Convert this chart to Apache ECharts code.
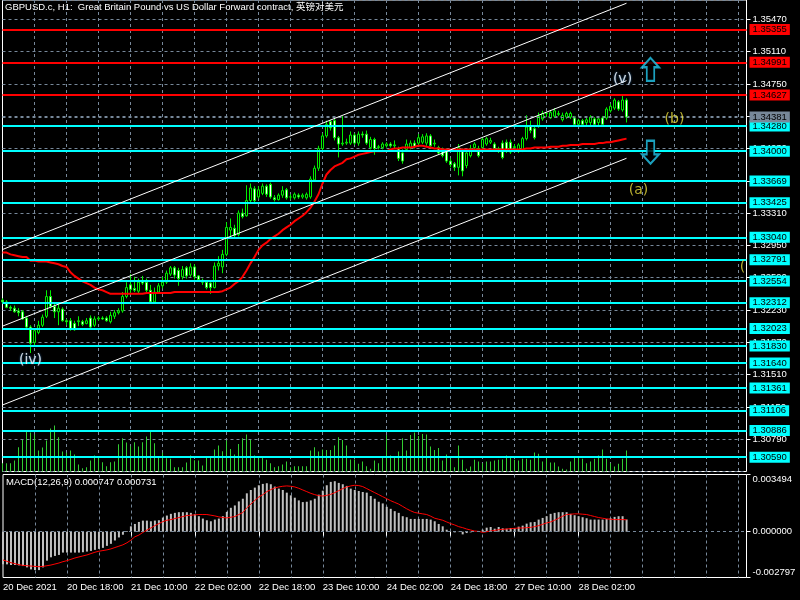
<!DOCTYPE html>
<html><head><meta charset="utf-8">
<script src="https://cdn.jsdelivr.net/npm/echarts@6/dist/echarts.min.js"></script>
<style>html,body{margin:0;padding:0;background:#000;}#c{width:800px;height:600px;}</style>
</head><body><div id="c"></div>
<script>
const FONT = "'Liberation Sans', Arial, 'Noto Sans CJK SC', sans-serif";
const GRID_COLOR = '#77889a';

// ---------- time axis ----------
const startTimeUTC = Date.UTC(2021, 11, 20, 2);
const slotCount = 187;
const monthNames = ['Jan','Feb','Mar','Apr','May','Jun','Jul','Aug','Sep','Oct','Nov','Dec'];
const categories = [];
(function () {
  let t = startTimeUTC;
  while (categories.length < slotCount) {
    const d = new Date(t);
    const wd = d.getUTCDay();
    if (wd !== 0 && wd !== 6) {
      categories.push(d.getUTCDate() + ' ' + monthNames[d.getUTCMonth()] + ' ' + String(d.getUTCHours()).padStart(2, '0') + ':00');
    }
    t += 3600000;
  }
})();
const xTickLabels = ['20 Dec 2021','20 Dec 18:00','21 Dec 10:00','22 Dec 02:00','22 Dec 18:00','23 Dec 10:00','24 Dec 02:00','24 Dec 18:00','27 Dec 10:00','28 Dec 02:00'];
const xLabelStep = 16;
const xGridStep = 8;

// ---------- price data: [open, close, low, high] ----------
const candles = [
[1.3234,1.3232,1.3230,1.3236],[1.3232,1.3226,1.3225,1.3234],[1.3226,1.3225,1.3222,1.3228],[1.3225,1.3221,1.3220,1.3228],[1.3222,1.3220,1.3216,1.3225],
[1.3221,1.3213,1.3212,1.3223],[1.3214,1.3204,1.3201,1.3216],[1.3204,1.3186,1.3175,1.3206],[1.3187,1.3200,1.3184,1.3202],[1.3198,1.3206,1.3196,1.3211],
[1.3206,1.3215,1.3204,1.3218],[1.3216,1.3238,1.3214,1.3245],[1.3238,1.3227,1.3225,1.3245],[1.3227,1.3221,1.3214,1.3231],[1.3221,1.3225,1.3206,1.3230],
[1.3224,1.3211,1.3210,1.3226],[1.3211,1.3210,1.3206,1.3213],[1.3211,1.3202,1.3200,1.3214],[1.3208,1.3201,1.3200,1.3211],[1.3210,1.3211,1.3205,1.3216],
[1.3210,1.3207,1.3205,1.3212],[1.3208,1.3211,1.3207,1.3214],[1.3214,1.3204,1.3201,1.3217],[1.3206,1.3213,1.3204,1.3216],[1.3213,1.3214,1.3211,1.3216],
[1.3214,1.3213,1.3212,1.3216],[1.3214,1.3211,1.3210,1.3216],[1.3210,1.3217,1.3208,1.3221],[1.3216,1.3220,1.3213,1.3223],[1.3220,1.3222,1.3218,1.3225],
[1.3222,1.3238,1.3220,1.3243],[1.3238,1.3248,1.3236,1.3254],[1.3251,1.3246,1.3241,1.3263],[1.3247,1.3245,1.3243,1.3260],[1.3244,1.3254,1.3242,1.3258],
[1.3256,1.3253,1.3251,1.3261],[1.3254,1.3245,1.3243,1.3258],[1.3245,1.3232,1.3231,1.3251],[1.3232,1.3243,1.3231,1.3248],[1.3243,1.3250,1.3241,1.3253],
[1.3250,1.3254,1.3247,1.3260],[1.3254,1.3264,1.3252,1.3267],[1.3263,1.3270,1.3261,1.3272],[1.3270,1.3262,1.3258,1.3272],[1.3267,1.3258,1.3250,1.3270],
[1.3260,1.3268,1.3257,1.3272],[1.3270,1.3261,1.3258,1.3272],[1.3262,1.3271,1.3260,1.3275],[1.3271,1.3260,1.3257,1.3274],[1.3261,1.3257,1.3255,1.3262],
[1.3256,1.3254,1.3251,1.3258],[1.3254,1.3248,1.3246,1.3255],[1.3253,1.3248,1.3241,1.3254],[1.3248,1.3272,1.3247,1.3276],[1.3272,1.3275,1.3267,1.3283],
[1.3271,1.3285,1.3264,1.3290],[1.3285,1.3315,1.3283,1.3321],[1.3312,1.3315,1.3304,1.3325],[1.3314,1.3306,1.3304,1.3318],[1.3307,1.3331,1.3305,1.3334],
[1.3331,1.3327,1.3325,1.3336],[1.3328,1.3345,1.3327,1.3362],[1.3345,1.3359,1.3343,1.3364],[1.3358,1.3345,1.3343,1.3361],[1.3349,1.3357,1.3347,1.3361],
[1.3353,1.3361,1.3351,1.3364],[1.3361,1.3352,1.3349,1.3363],[1.3363,1.3349,1.3347,1.3365],[1.3348,1.3346,1.3344,1.3351],[1.3346,1.3351,1.3345,1.3353],
[1.3351,1.3356,1.3348,1.3361],[1.3357,1.3348,1.3346,1.3359],[1.3349,1.3349,1.3346,1.3352],[1.3348,1.3352,1.3346,1.3354],[1.3351,1.3349,1.3347,1.3353],
[1.3349,1.3351,1.3347,1.3353],[1.3348,1.3352,1.3346,1.3354],[1.3349,1.3369,1.3347,1.3372],[1.3368,1.3381,1.3366,1.3384],[1.3381,1.3403,1.3378,1.3406],
[1.3403,1.3417,1.3401,1.3420],[1.3417,1.3430,1.3415,1.3434],[1.3433,1.3426,1.3423,1.3435],[1.3434,1.3415,1.3412,1.3436],[1.3415,1.3408,1.3393,1.3417],
[1.3408,1.3409,1.3406,1.3439],[1.3409,1.3410,1.3407,1.3414],[1.3409,1.3418,1.3407,1.3422],[1.3418,1.3409,1.3407,1.3420],[1.3409,1.3419,1.3406,1.3422],
[1.3419,1.3418,1.3415,1.3422],[1.3419,1.3409,1.3407,1.3423],[1.3404,1.3413,1.3402,1.3416],[1.3413,1.3403,1.3396,1.3415],[1.3404,1.3405,1.3402,1.3407],
[1.3404,1.3408,1.3402,1.3410],[1.3406,1.3408,1.3404,1.3410],[1.3408,1.3406,1.3404,1.3410],[1.3406,1.3407,1.3403,1.3412],[1.3403,1.3392,1.3389,1.3405],
[1.3398,1.3389,1.3386,1.3402],[1.3402,1.3408,1.3399,1.3413],[1.3404,1.3409,1.3402,1.3412],[1.3409,1.3405,1.3403,1.3412],[1.3409,1.3415,1.3407,1.3419],
[1.3410,1.3416,1.3408,1.3419],[1.3409,1.3417,1.3406,1.3420],[1.3417,1.3406,1.3404,1.3419],[1.3408,1.3409,1.3405,1.3413],[1.3404,1.3398,1.3396,1.3406],
[1.3402,1.3395,1.3393,1.3404],[1.3401,1.3389,1.3387,1.3403],[1.3389,1.3385,1.3382,1.3392],[1.3386,1.3382,1.3378,1.3388],[1.3382,1.3404,1.3373,1.3408],
[1.3401,1.3378,1.3372,1.3403],[1.3384,1.3398,1.3381,1.3402],[1.3395,1.3403,1.3393,1.3407],[1.3404,1.3408,1.3402,1.3410],[1.3403,1.3395,1.3393,1.3406],
[1.3404,1.3413,1.3402,1.3415],[1.3408,1.3414,1.3406,1.3416],[1.3410,1.3412,1.3408,1.3415],[1.3408,1.3403,1.3401,1.3410],[1.3403,1.3402,1.3398,1.3405],
[1.3409,1.3393,1.3391,1.3412],[1.3410,1.3401,1.3398,1.3413],[1.3410,1.3399,1.3397,1.3413],[1.3404,1.3405,1.3403,1.3408],[1.3401,1.3407,1.3398,1.3409],
[1.3401,1.3414,1.3399,1.3416],[1.3414,1.3427,1.3412,1.3440],[1.3428,1.3423,1.3420,1.3434],[1.3425,1.3415,1.3413,1.3427],[1.3428,1.3439,1.3426,1.3443],
[1.3436,1.3442,1.3434,1.3445],[1.3442,1.3442,1.3438,1.3444],[1.3437,1.3443,1.3436,1.3446],[1.3439,1.3445,1.3437,1.3448],[1.3441,1.3442,1.3439,1.3445],
[1.3435,1.3440,1.3433,1.3443],[1.3438,1.3442,1.3436,1.3444],[1.3438,1.3442,1.3436,1.3444],[1.3437,1.3430,1.3428,1.3439],[1.3430,1.3434,1.3428,1.3436],
[1.3434,1.3430,1.3428,1.3436],[1.3432,1.3435,1.3429,1.3437],[1.3432,1.3438,1.3429,1.3440],[1.3436,1.3430,1.3428,1.3438],[1.3432,1.3436,1.3429,1.3438],
[1.3437,1.3430,1.3428,1.3439],[1.3437,1.3447,1.3435,1.3449],[1.3445,1.3450,1.3443,1.3453],[1.3448,1.3457,1.3446,1.3459],[1.3455,1.3447,1.3445,1.3457],
[1.3446,1.3457,1.3444,1.3462],[1.3457,1.3438,1.3432,1.3459]
];

const maValues = [
1.3287,1.3287,1.3285,1.3284,1.3283,1.3282,1.3282,
1.3278,1.3278,1.3277,1.3277,1.3277,1.3276,1.3275,1.3274,1.3272,1.3271,
1.3265,1.3261,1.3258,1.3255,1.3253,1.3251,1.3248,1.3246,1.3245,1.3243,1.3241,
1.3241,1.3241,1.3241,1.3241,1.3241,1.3241,1.3241,
1.3241,
1.3242,1.3242,1.3242,1.3242,1.3242,1.3242,
1.3242,
1.3243,1.3243,1.3243,1.3243,1.3243,1.3243,1.3243,1.3243,1.3243,1.3243,1.3243,1.3243,
1.3244,1.3246,1.3248,1.3252,1.3255,1.3260,1.3267,1.3275,1.3282,1.3290,
1.3295,1.3298,1.3302,1.3305,1.3308,1.3312,1.3315,1.3318,1.3322,1.3325,
1.3328,1.3332,1.3337,1.3344,1.3352,1.3364,1.3374,1.3379,1.3383,1.3385,
1.3387,1.3391,1.3392,1.3394,1.3396,1.3397,1.3398,1.3399,
1.3400,1.3400,1.3400,1.3400,
1.3402,1.3403,1.3403,1.3404,1.3404,1.3404,1.3405,1.3406,1.3406,1.3405,1.3404,1.3403,1.3403,
1.3402,1.3402,1.3402,1.3402,1.3402,1.3402,1.3402,1.3402,1.3402,1.3402,1.3402,1.3402,1.3402,1.3402,1.3402,1.3402,1.3402,1.3402,1.3402,1.3402,1.3402,
1.3403,1.3403,1.3404,1.3404,1.3404,1.3404,1.3405,1.3405,1.3405,1.3406,1.3406,1.3407,1.3407,1.3407,1.3408,1.3408,1.3408,1.3408,1.3409,1.3409,
1.3410,1.3410,1.3411,1.3412,1.3413,1.3414
];

const volumes = [
750,
750,750,990,2190,2850,3630,3510,3330,1890,2160,
2790,3870,4140,3090,1800,1680,1890,1530,630,300,
390,990,1440,1230,840,480,840,900,2460,3000,
2610,2280,2640,2250,2640,3150,3630,2550,1230,1680,
1200,1140,390,390,390,810,1440,1020,990,540,
1290,1290,1980,2340,1830,2790,2040,1530,2490,3000,
3330,2850,1440,1200,1230,1050,750,390,480,630,
900,390,480,480,480,480,1890,2190,1800,1980,
1950,1950,2340,3090,2850,2340,1080,1080,690,900,
480,240,990,750,1230,3300,1440,1290,1800,3000,
1890,3300,3510,3210,3390,3330,2250,1950,2130,990,
1530,1140,390,2340,1050,240,450,1050,900,750,
900,900,990,1050,1080,1440,1230,1050,990,1140,
1140,1050,1710,1590,900,1140,810,810,450,240,
180,900,1230,1230,1140,750,900,1140,1440,1980,
1140,750,450,690,1140,1890
];

// ---------- MACD(12,26,9) ----------
const macdHist = [
-0.001994,-0.001994,-0.002035,-0.002035,-0.002056,-0.002097,-0.002179,-0.002303,-0.002344,-0.002344,
-0.002179,-0.001768,-0.001563,-0.001480,-0.001419,-0.001275,-0.001275,-0.001275,-0.001275,-0.001275,
-0.001254,-0.001213,-0.001172,-0.001110,-0.001049,-0.000987,-0.000864,-0.000740,-0.000535,-0.000350,
-0.000185,0.000041,0.000329,0.000473,0.000596,0.000678,0.000678,0.000637,0.000678,0.000699,
0.000864,0.000987,0.001090,0.001151,0.001192,0.001192,0.001192,0.001151,0.001069,0.000946,
0.000802,0.000699,0.000637,0.000740,0.000802,0.000946,0.001213,0.001460,0.001604,0.001850,
0.002015,0.002344,0.002549,0.002693,0.002837,0.002920,0.002961,0.002899,0.002755,0.002632,
0.002549,0.002385,0.002220,0.002077,0.001912,0.001809,0.001830,0.001912,0.002015,0.002262,
0.002508,0.002837,0.003043,0.003084,0.002981,0.002899,0.002796,0.002632,0.002549,0.002488,
0.002426,0.002385,0.002179,0.002015,0.001830,0.001727,0.001521,0.001398,0.001254,0.001151,
0.000946,0.000884,0.000781,0.000781,0.000781,0.000781,0.000781,0.000740,0.000637,0.000473,
0.000329,0.000123,0.000010,-0.000041,-0.000021,-0.000164,-0.000082,-0.000041,0.000010,0.000021,
0.000123,0.000247,0.000288,0.000185,0.000288,0.000206,0.000185,0.000226,0.000206,0.000308,
0.000370,0.000493,0.000576,0.000596,0.000740,0.000843,0.000946,0.001090,0.001151,0.001192,
0.001192,0.001192,0.001090,0.001007,0.000946,0.000884,0.000822,0.000740,0.000740,0.000740,
0.000740,0.000781,0.000822,0.000905,0.000946,0.000946,0.000747
];
const macdSignal = [
-0.001727,-0.001809,-0.001892,-0.001953,-0.002015,-0.002056,-0.002077,-0.002097,-0.002118,-0.002138,
-0.002118,-0.002077,-0.002035,-0.001974,-0.001912,-0.001830,-0.001768,-0.001686,-0.001604,-0.001542,
-0.001480,-0.001419,-0.001336,-0.001254,-0.001192,-0.001151,-0.001110,-0.001049,-0.000966,-0.000884,
-0.000802,-0.000678,-0.000514,-0.000308,-0.000206,-0.000041,0.000103,0.000226,0.000370,0.000493,
0.000617,0.000699,0.000740,0.000802,0.000864,0.000925,0.000987,0.001007,0.001028,0.001049,
0.001049,0.001049,0.001007,0.000966,0.000905,0.000864,0.000843,0.000884,0.000925,0.001049,
0.001172,0.001460,0.001686,0.001912,0.002118,0.002262,0.002447,0.002570,0.002673,0.002734,
0.002776,0.002796,0.002776,0.002734,0.002652,0.002549,0.002447,0.002344,0.002262,0.002200,
0.002179,0.002220,0.002282,0.002385,0.002508,0.002632,0.002734,0.002796,0.002837,0.002817,
0.002755,0.002632,0.002508,0.002385,0.002262,0.002138,0.002015,0.001892,0.001789,0.001686,
0.001542,0.001398,0.001275,0.001172,0.001131,0.001090,0.001049,0.000946,0.000822,0.000761,
0.000699,0.000596,0.000493,0.000411,0.000308,0.000247,0.000164,0.000103,0.000041,0.000021,
-0.000041,0.000000,0.000041,0.000082,0.000123,0.000144,0.000164,0.000185,0.000206,0.000226,
0.000226,0.000247,0.000267,0.000308,0.000370,0.000452,0.000535,0.000596,0.000699,0.000822,
0.000946,0.001049,0.001069,0.001090,0.001090,0.001069,0.001049,0.000987,0.000925,0.000864,
0.000822,0.000781,0.000761,0.000740,0.000740,0.000740,0.000731
];
const macdAxisValues = [-0.002797, 0, 0.003494];

// ---------- chart objects ----------
const redLevels = [1.35355, 1.34991, 1.34627];
const cyanLevels = [1.34280,1.34000,1.33669,1.33425,1.33040,1.32791,1.32554,1.32312,1.32023,1.31830,1.31640,1.31361,1.31106,1.30886,1.30590];
const bidPrice = 1.34381;
const channelStartIdx = 0, channelEndIdx = 156;
const channelStartPrice = [1.32904, 1.32050, 1.31171];
const channelEndPrice = [1.35649, 1.34786, 1.33921];
const waveTexts = ['(iv)', '(v)', '(b)', '(a)', '('];
const waveIdx = [7, 155, 168, 159, 185];
const wavePrice = [1.31669, 1.34795, 1.34350, 1.33560, 1.32703];
const waveColors = ['#ffffff', '#ffffff', '#e8dc3c', '#e8dc3c', '#e8dc3c'];
const arrowIdx = [162, 162];
const arrowPrice = [1.34912, 1.33988];
const arrowDir = ['up', 'down'];

const titleText = 'GBPUSD.c, H1:  Great Britain Pound vs US Dollar Forward contract, 英镑对美元';
const macdTitle = 'MACD(12,26,9) 0.000747 0.000731';

// ---------- build ----------
const isLabelled = (i) => i % xLabelStep === 0 && (i / xLabelStep) < xTickLabels.length;
const isGridLine = (i) => i % xGridStep === 0 && i > 0;
const labelBase = { show: true, position: 'end', distance: 3, fontSize: 9.5, fontFamily: FONT, padding: [1, 3, 0, 3], lineHeight: 10,
  formatter: (p) => Number(p.value).toFixed(5) };
const levelData = [];
redLevels.forEach(v => levelData.push({ yAxis: v, lineStyle: { color: '#ff0000', width: 2, type: 'solid' },
  label: Object.assign({}, labelBase, { backgroundColor: '#ff0000', color: '#000' }) }));
cyanLevels.forEach(v => levelData.push({ yAxis: v, lineStyle: { color: '#00ffff', width: 2, type: 'solid' },
  label: Object.assign({}, labelBase, { backgroundColor: '#00ffff', color: '#000' }) }));
levelData.push({ yAxis: bidPrice, lineStyle: { color: GRID_COLOR, width: 1, type: [3, 3] },
  label: Object.assign({}, labelBase, { backgroundColor: '#778899', color: '#000' }) });
channelStartPrice.forEach((s, k) => levelData.push([
  { coord: [channelStartIdx, s], lineStyle: { color: '#ffffff', width: 1, type: 'solid' }, label: { show: false } },
  { coord: [channelEndIdx, channelEndPrice[k]] }
]));

const waveData = waveTexts.map((t, k) => ({ value: [waveIdx[k], wavePrice[k]],
  label: { show: true, position: 'inside', formatter: t, color: waveColors[k], fontSize: 14, fontFamily: "'DejaVu Sans', sans-serif",
    textShadowColor: waveColors[k] === '#ffffff' ? '#3b8fe0' : 'rgba(0,0,0,0)', textShadowBlur: 2 } }));

const upPath = 'path://M8,0 L16,9 L11.5,9 L11.5,22 L4.5,22 L4.5,9 L0,9 Z';
const downPath = 'path://M4.5,0 L11.5,0 L11.5,13 L16,13 L8,22 L0,13 L4.5,13 Z';
const arrowData = arrowIdx.map((x, k) => ({ value: [x, arrowPrice[k]], symbol: arrowDir[k] === 'up' ? upPath : downPath }));

const splitX = { show: true, interval: isGridLine, lineStyle: { color: GRID_COLOR, width: 1, type: [3, 3] } };

const chart = echarts.init(document.getElementById('c'), null, { renderer: 'canvas' });
chart.setOption({
  backgroundColor: '#000000',
  animation: false,
  textStyle: { fontFamily: FONT },
  grid: [
    { left: 2.5, width: 744, top: -1, height: 472.5, show: true, borderColor: '#ffffff', borderWidth: 1, backgroundColor: 'transparent' },
    { left: 2.5, width: 744, top: 474.5, height: 103, show: true, borderColor: '#ffffff', borderWidth: 1, backgroundColor: 'transparent' }
  ],
  xAxis: [
    { type: 'category', gridIndex: 0, data: categories, boundaryGap: false,
      axisLine: { show: false }, axisTick: { show: false }, axisLabel: { show: false }, splitLine: splitX },
    { type: 'category', gridIndex: 1, data: categories, boundaryGap: false,
      axisLine: { show: false },
      axisTick: { show: true, interval: isLabelled, length: 4, lineStyle: { color: '#ffffff' } },
      axisLabel: { show: true, interval: isLabelled, formatter: (v, i) => xTickLabels[i / xLabelStep], color: '#ffffff',
        fontSize: 9.5, fontFamily: FONT, align: 'left', margin: 5 },
      splitLine: splitX }
  ],
  yAxis: [
    { type: 'value', gridIndex: 0, position: 'right', min: 1.3043, max: 1.35685, interval: 0.0036,
      axisLine: { show: false },
      axisTick: { show: true, length: 4, lineStyle: { color: '#ffffff' } },
      axisLabel: { color: '#ffffff', fontSize: 9.5, fontFamily: FONT, margin: 6, formatter: (v) => v.toFixed(5), showMinLabel: false, showMaxLabel: false },
      splitLine: { show: true, lineStyle: { color: GRID_COLOR, width: 1, type: [3, 3] } } },
    { type: 'value', gridIndex: 0, min: 0, max: 42525, show: false },
    { type: 'value', gridIndex: 1, position: 'right', min: -0.002797, max: 0.003494,
      axisLine: { show: false },
      axisTick: { show: true, length: 4, customValues: macdAxisValues, lineStyle: { color: '#ffffff' } },
      axisLabel: { customValues: macdAxisValues, formatter: (v) => v.toFixed(6), color: '#ffffff', fontSize: 9.5, fontFamily: FONT, margin: 6,
        verticalAlignMinLabel: 'bottom', verticalAlignMaxLabel: 'top' },
      splitLine: { show: false } }
  ],
  graphic: [
    { type: 'text', left: 5, top: 3, z: 100, style: { text: titleText, fill: '#ffffff', font: '9.5px ' + FONT } },
    { type: 'text', left: 6, top: 478, z: 100, style: { text: macdTitle, fill: '#ffffff', font: '9.5px ' + FONT } }
  ],
  series: [
    { name: 'Volume', type: 'bar', xAxisIndex: 0, yAxisIndex: 1, data: volumes, barWidth: 1, z: 1,
      itemStyle: { color: '#32cd32' }, silent: true },
    { name: 'GBPUSD', type: 'candlestick', xAxisIndex: 0, yAxisIndex: 0, data: candles, barWidth: 3, z: 2,
      itemStyle: { color: '#000000', color0: '#ffffff', borderColor: '#00ee00', borderColor0: '#00ee00', borderColorDoji: '#00ee00', borderWidth: 1 } },
    { name: 'MA', type: 'line', xAxisIndex: 0, yAxisIndex: 0, data: maValues, symbol: 'none', z: 3,
      lineStyle: { color: '#ff0000', width: 2 } },
    { name: 'Levels', type: 'line', xAxisIndex: 0, yAxisIndex: 0, data: [], z: 4,
      markLine: { silent: true, symbol: ['none', 'none'], precision: 5, animation: false, data: levelData } },
    { name: 'Waves', type: 'scatter', xAxisIndex: 0, yAxisIndex: 0, data: waveData, symbolSize: 1, z: 5,
      itemStyle: { color: 'rgba(0,0,0,0)' }, clip: false },
    { name: 'Arrows', type: 'scatter', xAxisIndex: 0, yAxisIndex: 0, data: arrowData, symbolSize: [17, 23], z: 5,
      itemStyle: { color: '#000000', borderColor: '#22c8ee', borderWidth: 2 }, clip: false },
    { name: 'MACD', type: 'bar', xAxisIndex: 1, yAxisIndex: 2, data: macdHist, barWidth: 2, z: 2,
      itemStyle: { color: '#c0c0c0' },
      markLine: { silent: true, symbol: ['none', 'none'], label: { show: false },
        lineStyle: { color: GRID_COLOR, width: 1, type: [3, 3] }, data: [{ yAxis: 0 }] } },
    { name: 'Signal', type: 'line', xAxisIndex: 1, yAxisIndex: 2, data: macdSignal, symbol: 'none', z: 3,
      lineStyle: { color: '#ff0000', width: 1 } }
  ]
});
</script>
</body></html>
